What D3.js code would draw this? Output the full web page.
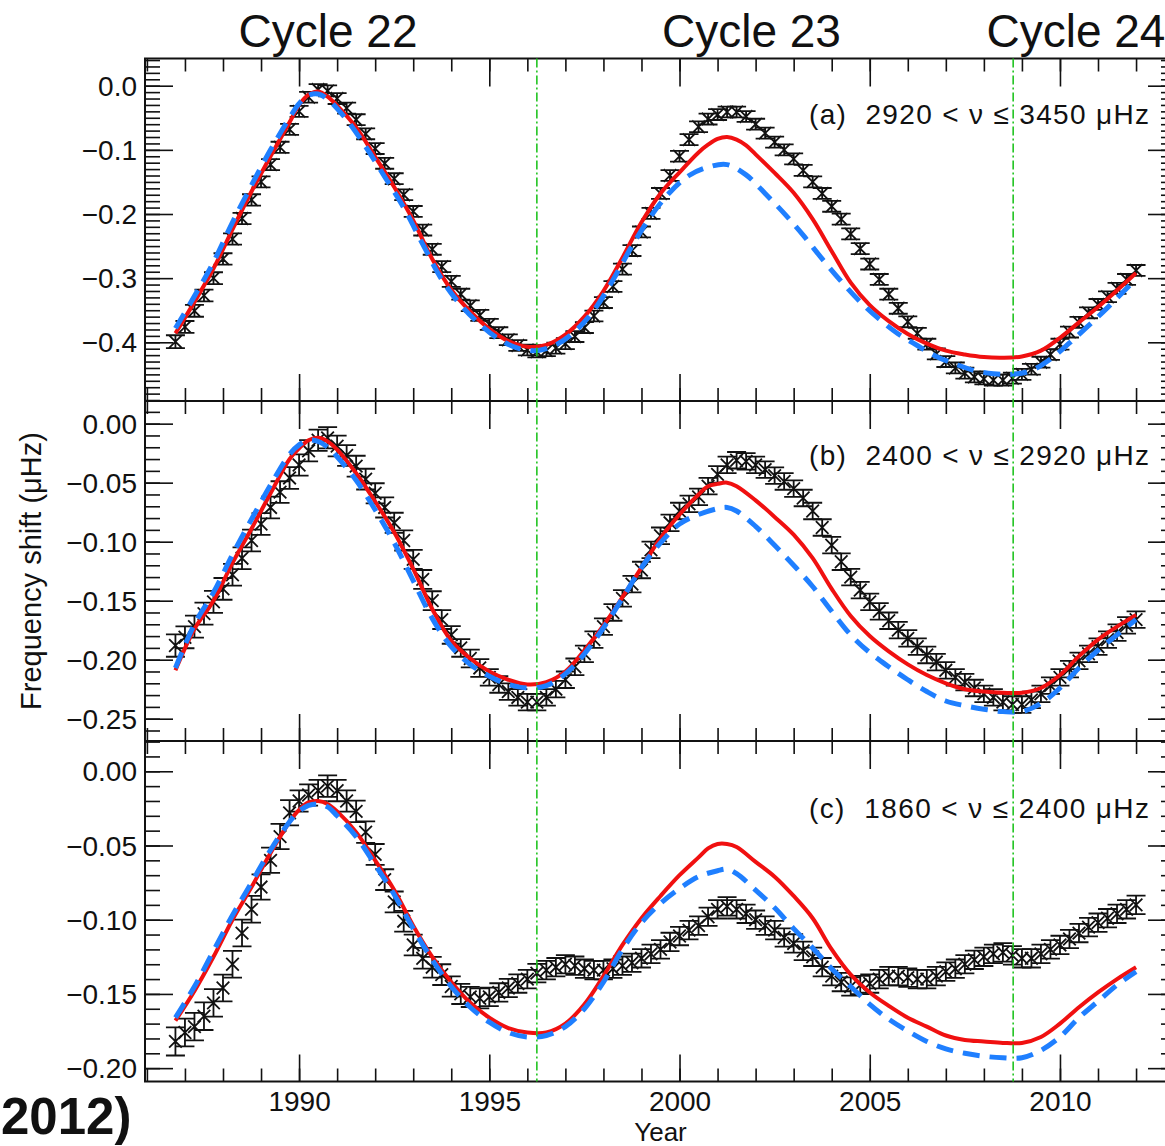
<!DOCTYPE html>
<html>
<head>
<meta charset="utf-8">
<script src="https://cdn.jsdelivr.net/npm/d3@7"></script>
<style>
  body { margin: 0; background: #fff; }
  svg { display: block; }
  text { font-family: "Liberation Sans", Arial, Helvetica, sans-serif; fill: #111; }
</style>
</head>
<body>
<svg id="chart" width="1165" height="1146"></svg>
<script>
// ---- Observations: mean frequency shifts, one value every quarter year ----
const sampleStart = 1986.75;
const sampleStep = 0.25;

const shiftA = [
  -0.399,-0.376,-0.351,-0.327,-0.300,-0.270,-0.239,-0.207,-0.178,-0.150,
  -0.123,-0.096,-0.068,-0.040,-0.018,-0.006,-0.008,-0.020,-0.035,-0.053,
  -0.075,-0.098,-0.121,-0.145,-0.170,-0.196,-0.225,-0.255,-0.282,-0.305,
  -0.325,-0.343,-0.358,-0.372,-0.385,-0.396,-0.405,-0.412,-0.415,-0.413,
  -0.409,-0.402,-0.391,-0.377,-0.359,-0.338,-0.313,-0.286,-0.257,-0.228,
  -0.199,-0.168,-0.140,-0.110,-0.084,-0.064,-0.052,-0.045,-0.041,-0.041,
  -0.048,-0.060,-0.074,-0.088,-0.100,-0.114,-0.132,-0.150,-0.168,-0.188,
  -0.208,-0.231,-0.254,-0.278,-0.302,-0.325,-0.347,-0.368,-0.386,-0.403,
  -0.418,-0.430,-0.440,-0.448,-0.454,-0.457,-0.459,-0.459,-0.456,-0.450,
  -0.442,-0.431,-0.419,-0.403,-0.384,-0.369,-0.354,-0.341,-0.329,-0.316,
  -0.302,-0.288
];

const shiftB = [
  -0.188,-0.181,-0.172,-0.161,-0.151,-0.140,-0.128,-0.114,-0.099,-0.085,
  -0.071,-0.058,-0.046,-0.035,-0.023,-0.014,-0.012,-0.019,-0.027,-0.036,
  -0.047,-0.059,-0.071,-0.084,-0.099,-0.115,-0.132,-0.150,-0.166,-0.179,
  -0.190,-0.199,-0.207,-0.215,-0.221,-0.227,-0.232,-0.236,-0.236,-0.232,
  -0.225,-0.217,-0.206,-0.195,-0.183,-0.172,-0.160,-0.148,-0.136,-0.124,
  -0.107,-0.095,-0.084,-0.074,-0.068,-0.062,-0.053,-0.043,-0.035,-0.031,
  -0.032,-0.035,-0.039,-0.044,-0.049,-0.055,-0.063,-0.074,-0.088,-0.103,
  -0.117,-0.130,-0.141,-0.151,-0.159,-0.167,-0.175,-0.182,-0.189,-0.196,
  -0.202,-0.209,-0.215,-0.219,-0.224,-0.229,-0.232,-0.236,-0.238,-0.238,
  -0.234,-0.229,-0.222,-0.215,-0.208,-0.201,-0.195,-0.189,-0.183,-0.177,
  -0.171,-0.166
];

const shiftC = [
  -0.182,-0.176,-0.172,-0.165,-0.156,-0.146,-0.130,-0.109,-0.093,-0.078,
  -0.060,-0.044,-0.028,-0.020,-0.016,-0.013,-0.010,-0.013,-0.020,-0.027,
  -0.041,-0.056,-0.073,-0.088,-0.101,-0.117,-0.126,-0.132,-0.137,-0.145,
  -0.150,-0.152,-0.153,-0.152,-0.149,-0.146,-0.143,-0.140,-0.136,-0.134,
  -0.132,-0.130,-0.131,-0.133,-0.134,-0.134,-0.133,-0.131,-0.129,-0.126,
  -0.123,-0.120,-0.115,-0.111,-0.107,-0.104,-0.098,-0.093,-0.091,-0.093,
  -0.096,-0.100,-0.104,-0.107,-0.112,-0.116,-0.121,-0.125,-0.132,-0.138,
  -0.142,-0.145,-0.144,-0.143,-0.140,-0.138,-0.138,-0.139,-0.140,-0.140,
  -0.138,-0.135,-0.133,-0.130,-0.127,-0.125,-0.123,-0.122,-0.124,-0.126,
  -0.126,-0.123,-0.120,-0.117,-0.113,-0.109,-0.105,-0.102,-0.099,-0.096,
  -0.093,-0.090
];

// ---- One-sigma uncertainties, one value per calendar year 1986..2012 ----
const errYearStart = 1986;
const errA = [0.0100,0.0092,0.0088,0.0086,0.0085,0.0085,0.0085,0.0085,0.0085,0.0085,
              0.0085,0.0085,0.0085,0.0085,0.0085,0.0085,0.0085,0.0085,0.0085,0.0085,
              0.0085,0.0085,0.0085,0.0085,0.0085,0.0085,0.0085];
const errB = [0.0095,0.0093,0.0092,0.0092,0.0090,0.0088,0.0085,0.0080,0.0075,0.0070,
              0.0070,0.0070,0.0070,0.0070,0.0070,0.0070,0.0070,0.0070,0.0070,0.0070,
              0.0070,0.0070,0.0070,0.0070,0.0070,0.0070,0.0070];
const errC = [0.0095,0.0093,0.0090,0.0085,0.0072,0.0072,0.0070,0.0070,0.0068,0.0062,
              0.0062,0.0062,0.0062,0.0062,0.0062,0.0062,0.0062,0.0062,0.0062,0.0062,
              0.0062,0.0062,0.0062,0.0062,0.0062,0.0062,0.0062];

// ---- Activity-proxy models: [year, shift] (solid red, dashed blue) ----
const redA = [
  [1986.75,-0.386],[1987.25,-0.337],[1987.75,-0.285],[1988.25,-0.224],[1988.75,-0.165],
  [1989.25,-0.110],[1989.75,-0.057],[1990.0,-0.030],[1990.25,-0.014],[1990.5,-0.009],
  [1990.75,-0.017],[1991.0,-0.031],[1991.5,-0.065],[1992.0,-0.111],[1992.5,-0.158],
  [1993.0,-0.210],[1993.5,-0.270],[1994.0,-0.318],[1994.5,-0.352],[1995.0,-0.379],
  [1995.5,-0.398],[1996.0,-0.407],[1996.5,-0.404],[1997.0,-0.388],[1997.5,-0.360],
  [1998.0,-0.320],[1998.5,-0.268],[1999.0,-0.213],[1999.5,-0.168],[2000.0,-0.135],
  [2000.5,-0.104],[2000.75,-0.092],[2001.0,-0.083],[2001.25,-0.080],[2001.5,-0.084],
  [2001.75,-0.093],[2002.0,-0.107],[2002.5,-0.136],[2003.0,-0.167],[2003.5,-0.208],
  [2004.0,-0.258],[2004.5,-0.307],[2005.0,-0.342],[2005.5,-0.367],[2006.0,-0.387],
  [2006.5,-0.402],[2007.0,-0.413],[2007.5,-0.419],[2008.0,-0.423],[2008.5,-0.424],
  [2009.0,-0.422],[2009.5,-0.413],[2010.0,-0.393],[2010.5,-0.369],[2011.0,-0.345],
  [2011.5,-0.319],[2012.0,-0.292]
];
const blueA = [
  [1986.75,-0.378],[1987.25,-0.328],[1987.75,-0.275],[1988.25,-0.213],[1988.75,-0.155],
  [1989.25,-0.100],[1989.75,-0.050],[1990.0,-0.028],[1990.25,-0.015],[1990.5,-0.013],
  [1990.75,-0.021],[1991.25,-0.053],[1991.75,-0.095],[1992.25,-0.142],[1992.75,-0.190],
  [1993.25,-0.247],[1993.75,-0.302],[1994.25,-0.342],[1994.75,-0.372],[1995.25,-0.395],
  [1995.75,-0.409],[1996.25,-0.413],[1996.75,-0.404],[1997.25,-0.383],[1997.75,-0.350],
  [1998.25,-0.303],[1998.75,-0.250],[1999.25,-0.203],[1999.75,-0.166],[2000.25,-0.140],
  [2000.75,-0.127],[2001.25,-0.123],[2001.75,-0.139],[2002.25,-0.168],[2002.75,-0.199],
  [2003.25,-0.233],[2003.75,-0.270],[2004.25,-0.305],[2004.75,-0.337],[2005.25,-0.364],
  [2005.75,-0.387],[2006.25,-0.405],[2006.75,-0.422],[2007.25,-0.434],[2007.75,-0.444],
  [2008.25,-0.449],[2008.75,-0.450],[2009.25,-0.444],[2009.75,-0.426],[2010.25,-0.401],
  [2010.75,-0.374],[2011.25,-0.346],[2011.75,-0.316],[2012.0,-0.301]
];
const redB = [
  [1986.75,-0.209],[1987.25,-0.174],[1987.75,-0.150],[1988.25,-0.118],[1988.75,-0.089],
  [1989.25,-0.059],[1989.75,-0.030],[1990.0,-0.021],[1990.25,-0.014],[1990.5,-0.012],
  [1990.75,-0.015],[1991.0,-0.022],[1991.5,-0.042],[1992.0,-0.066],[1992.5,-0.092],
  [1993.0,-0.123],[1993.5,-0.157],[1994.0,-0.184],[1994.5,-0.199],[1995.0,-0.210],
  [1995.5,-0.217],[1996.0,-0.221],[1996.5,-0.219],[1997.0,-0.210],[1997.5,-0.192],
  [1998.0,-0.171],[1998.5,-0.147],[1999.0,-0.122],[1999.5,-0.097],[2000.0,-0.077],
  [2000.5,-0.060],[2000.75,-0.053],[2001.0,-0.051],[2001.25,-0.050],[2001.5,-0.053],
  [2002.0,-0.065],[2002.5,-0.079],[2003.0,-0.094],[2003.5,-0.114],[2004.0,-0.140],
  [2004.5,-0.163],[2005.0,-0.180],[2005.5,-0.193],[2006.0,-0.204],[2006.5,-0.213],
  [2007.0,-0.220],[2007.5,-0.225],[2008.0,-0.227],[2008.5,-0.228],[2009.0,-0.228],
  [2009.5,-0.224],[2010.0,-0.213],[2010.5,-0.197],[2011.0,-0.183],[2011.5,-0.172],
  [2012.0,-0.162]
];
const blueB = [
  [1986.75,-0.207],[1987.25,-0.170],[1987.75,-0.143],[1988.25,-0.111],[1988.75,-0.081],
  [1989.25,-0.052],[1989.75,-0.026],[1990.0,-0.018],[1990.25,-0.014],[1990.5,-0.015],
  [1990.75,-0.020],[1991.0,-0.028],[1991.5,-0.048],[1992.0,-0.073],[1992.5,-0.101],
  [1993.0,-0.133],[1993.5,-0.165],[1994.0,-0.189],[1994.5,-0.204],[1995.0,-0.214],
  [1995.5,-0.221],[1996.0,-0.224],[1996.5,-0.222],[1997.0,-0.212],[1997.5,-0.195],
  [1998.0,-0.173],[1998.5,-0.148],[1999.0,-0.122],[1999.5,-0.101],[2000.0,-0.085],
  [2000.5,-0.077],[2001.0,-0.072],[2001.25,-0.071],[2001.5,-0.074],[2002.0,-0.087],
  [2002.5,-0.103],[2003.0,-0.120],[2003.5,-0.138],[2004.0,-0.159],[2004.5,-0.179],
  [2005.0,-0.194],[2005.5,-0.206],[2006.0,-0.217],[2006.5,-0.227],[2007.0,-0.235],
  [2007.5,-0.239],[2008.0,-0.242],[2008.5,-0.244],[2009.0,-0.244],[2009.5,-0.237],
  [2010.0,-0.224],[2010.5,-0.207],[2011.0,-0.192],[2011.5,-0.179],[2012.0,-0.166]
];
const redC = [
  [1986.75,-0.168],[1987.25,-0.148],[1987.75,-0.125],[1988.25,-0.100],[1988.75,-0.078],
  [1989.25,-0.055],[1989.75,-0.034],[1990.0,-0.026],[1990.25,-0.021],[1990.5,-0.020],
  [1990.75,-0.022],[1991.0,-0.027],[1991.5,-0.041],[1992.0,-0.060],[1992.5,-0.080],
  [1993.0,-0.104],[1993.5,-0.125],[1994.0,-0.142],[1994.5,-0.156],[1995.0,-0.166],
  [1995.5,-0.173],[1996.0,-0.176],[1996.5,-0.176],[1997.0,-0.170],[1997.5,-0.157],
  [1998.0,-0.138],[1998.5,-0.117],[1999.0,-0.099],[1999.5,-0.084],[2000.0,-0.070],
  [2000.5,-0.058],[2000.75,-0.052],[2001.0,-0.049],[2001.25,-0.049],[2001.5,-0.051],
  [2002.0,-0.061],[2002.5,-0.071],[2003.0,-0.084],[2003.5,-0.099],[2004.0,-0.120],
  [2004.5,-0.137],[2005.0,-0.149],[2005.5,-0.158],[2006.0,-0.166],[2006.5,-0.172],
  [2007.0,-0.178],[2007.5,-0.181],[2008.0,-0.182],[2008.5,-0.183],[2009.0,-0.183],
  [2009.5,-0.179],[2010.0,-0.170],[2010.5,-0.159],[2011.0,-0.149],[2011.5,-0.140],
  [2012.0,-0.132]
];
const blueC = [
  [1986.75,-0.166],[1987.25,-0.145],[1987.75,-0.121],[1988.25,-0.097],[1988.75,-0.075],
  [1989.25,-0.053],[1989.75,-0.034],[1990.0,-0.027],[1990.25,-0.023],[1990.5,-0.022],
  [1990.75,-0.024],[1991.0,-0.030],[1991.5,-0.044],[1992.0,-0.063],[1992.5,-0.083],
  [1993.0,-0.106],[1993.5,-0.127],[1994.0,-0.145],[1994.5,-0.159],[1995.0,-0.169],
  [1995.5,-0.176],[1996.0,-0.179],[1996.5,-0.178],[1997.0,-0.172],[1997.5,-0.160],
  [1998.0,-0.142],[1998.5,-0.120],[1999.0,-0.102],[1999.5,-0.089],[2000.0,-0.079],
  [2000.5,-0.071],[2001.0,-0.067],[2001.25,-0.066],[2001.5,-0.069],[2002.0,-0.080],
  [2002.5,-0.092],[2003.0,-0.106],[2003.5,-0.119],[2004.0,-0.133],[2004.5,-0.145],
  [2005.0,-0.157],[2005.5,-0.167],[2006.0,-0.175],[2006.5,-0.182],[2007.0,-0.187],
  [2007.5,-0.190],[2008.0,-0.192],[2008.5,-0.193],[2009.0,-0.193],[2009.5,-0.188],
  [2010.0,-0.179],[2010.5,-0.166],[2011.0,-0.155],[2011.5,-0.144],[2012.0,-0.135]
];

// ---- Labels and ticks ----
const panelLabels = [
  "(a)  2920 < \u03bd \u2264 3450 \u03bcHz",
  "(b)  2400 < \u03bd \u2264 2920 \u03bcHz",
  "(c)  1860 < \u03bd \u2264 2400 \u03bcHz"
];
const yTicksA = [0, -0.1, -0.2, -0.3, -0.4];
const yTicksB = [0, -0.05, -0.10, -0.15, -0.20, -0.25];
const yTicksC = [0, -0.05, -0.10, -0.15, -0.20];
const xTickYears = [1990, 1995, 2000, 2005, 2010];
const cycleLabels = ["Cycle 22", "Cycle 23", "Cycle 24"];
const cycleLabelYears = [1990.76, 2001.89, 2010.42];
const minimumYears = [1996.25, 2008.77];

// ---- Layout ----
const svg = d3.select("#chart");
const plotLeft = 145, plotRight = 1176;
const x = d3.scaleLinear().domain([1985.95, 2013.05]).range([plotLeft, plotRight]);

const panels = [
  { values: shiftA, err: errA, red: redA, blue: blueA, label: panelLabels[0],
    top: 58.5, bottom: 401, domain: [-0.4915, 0.0424], ticks: yTicksA, fmt: d3.format(".1f"), labelDy: 65 },
  { values: shiftB, err: errB, red: redB, blue: blueB, label: panelLabels[1],
    top: 401, bottom: 741, domain: [-0.2689, 0.0192], ticks: yTicksB, fmt: d3.format(".2f"), labelDy: 63.5 },
  { values: shiftC, err: errC, red: redC, blue: blueC, label: panelLabels[2],
    top: 741, bottom: 1081.5, domain: [-0.2090, 0.0204], ticks: yTicksC, fmt: d3.format(".2f"), labelDy: 77 }
];

const minorYears = d3.range(1986, 2014);

function styleAxis(g, width) {
  g.select(".domain").remove();
  g.selectAll(".tick line").attr("stroke", "#111").attr("stroke-width", width);
}

panels.forEach((p, idx) => {
  const y = d3.scaleLinear().domain(p.domain).range([p.bottom, p.top]);
  const g = svg.append("g");

  // minor / major ticks on all four sides, pointing inward
  const lo = p.domain[0], hi = p.domain[1];
  const minorY = d3.range(Math.ceil(lo * 100), Math.floor(hi * 100) + 1).map(k => k / 100);

  g.append("g").attr("transform", `translate(${plotLeft},0)`)
    .call(d3.axisLeft(y).tickValues(minorY).tickSizeInner(-15).tickSizeOuter(0).tickFormat(""))
    .call(s => styleAxis(s, 1.6));
  const yMajor = g.append("g").attr("transform", `translate(${plotLeft},0)`)
    .call(d3.axisLeft(y).tickValues(p.ticks).tickSizeInner(-28).tickSizeOuter(0).tickPadding(8).tickFormat(p.fmt))
    .call(s => styleAxis(s, 1.6));
  yMajor.selectAll(".tick text").attr("font-size", 28).attr("fill", "#1a1a1a")
    .attr("dy", "0.34em").style("font-family", '"Liberation Sans", Arial, sans-serif');

  g.append("g").attr("transform", `translate(${plotRight},0)`)
    .call(d3.axisRight(y).tickValues(minorY).tickSizeInner(-15).tickSizeOuter(0).tickFormat(""))
    .call(s => styleAxis(s, 1.6));
  g.append("g").attr("transform", `translate(${plotRight},0)`)
    .call(d3.axisRight(y).tickValues(p.ticks).tickSizeInner(-28).tickSizeOuter(0).tickFormat(""))
    .call(s => styleAxis(s, 1.6));

  g.append("g").attr("transform", `translate(0,${p.top})`)
    .call(d3.axisTop(x).tickValues(minorYears).tickSizeInner(-13).tickSizeOuter(0).tickFormat(""))
    .call(s => styleAxis(s, 1.6));
  g.append("g").attr("transform", `translate(0,${p.top})`)
    .call(d3.axisTop(x).tickValues(xTickYears).tickSizeInner(-28).tickSizeOuter(0).tickFormat(""))
    .call(s => styleAxis(s, 1.6));

  g.append("g").attr("transform", `translate(0,${p.bottom})`)
    .call(d3.axisBottom(x).tickValues(minorYears).tickSizeInner(-13).tickSizeOuter(0).tickFormat(""))
    .call(s => styleAxis(s, 1.6));
  const xMajor = g.append("g").attr("transform", `translate(0,${p.bottom})`)
    .call(d3.axisBottom(x).tickValues(xTickYears).tickSizeInner(-27).tickSizeOuter(0).tickPadding(10)
      .tickFormat(idx === panels.length - 1 ? d3.format("d") : ""))
    .call(s => styleAxis(s, 1.6));
  xMajor.selectAll(".tick text").attr("font-size", 28).attr("fill", "#1a1a1a")
    .style("font-family", '"Liberation Sans", Arial, sans-serif');

  // frame
  g.append("rect")
    .attr("x", plotLeft).attr("y", p.top)
    .attr("width", plotRight - plotLeft).attr("height", p.bottom - p.top)
    .attr("fill", "none").attr("stroke", "#111").attr("stroke-width", 2);

  // observations: X symbols with error bars
  const pts = p.values.map((v, i) => {
    const yr = sampleStart + i * sampleStep;
    const e = p.err[Math.min(p.err.length - 1, Math.floor(yr) - errYearStart)];
    return { yr, v, e };
  });
  const s = 6.3, cap = 9.5;
  g.append("g").selectAll("path").data(pts).join("path")
    .attr("d", d => {
      const cx = x(d.yr), cy = y(d.v), yt = y(d.v + d.e), yb = y(d.v - d.e);
      return `M${cx - s},${cy - s}L${cx + s},${cy + s}M${cx - s},${cy + s}L${cx + s},${cy - s}` +
             `M${cx},${yt}L${cx},${yb}M${cx - cap},${yt}L${cx + cap},${yt}M${cx - cap},${yb}L${cx + cap},${yb}`;
    })
    .attr("fill", "none").attr("stroke", "#111").attr("stroke-width", 1.8);

  const line = d3.line().x(d => x(d[0])).y(d => y(d[1])).curve(d3.curveCatmullRom.alpha(0.5));

  g.append("path").datum(p.red).attr("d", line)
    .attr("fill", "none").attr("stroke", "#f01010").attr("stroke-width", 4)
    .attr("stroke-linejoin", "round");
  g.append("path").datum(p.blue).attr("d", line)
    .attr("fill", "none").attr("stroke", "#1f7fff").attr("stroke-width", 5)
    .attr("stroke-dasharray", "17,10");

  // band label
  g.append("text")
    .attr("x", 1149).attr("y", p.top + p.labelDy)
    .attr("text-anchor", "end").attr("font-size", 28)
    .attr("textLength", 340).attr("lengthAdjust", "spacing")
    .style("white-space", "pre")
    .text(p.label);
});

// cycle-minimum markers spanning all three panels
svg.append("g").selectAll("line").data(minimumYears).join("line")
  .attr("x1", d => x(d)).attr("x2", d => x(d))
  .attr("y1", panels[0].top).attr("y2", panels[2].bottom)
  .attr("stroke", "#22c422").attr("stroke-width", 1.6)
  .attr("stroke-dasharray", "9,3,2,3");

// cycle names above the top panel
svg.append("g").selectAll("text").data(cycleLabels).join("text")
  .attr("x", (d, i) => x(cycleLabelYears[i])).attr("y", 47)
  .attr("text-anchor", "middle").attr("font-size", 46)
  .text(d => d);

// axis titles
svg.append("text")
  .attr("transform", `translate(41,571) rotate(-90)`)
  .attr("text-anchor", "middle").attr("font-size", 29)
  .text("Frequency shift (\u03bcHz)");
svg.append("text")
  .attr("x", (plotLeft + plotRight) / 2).attr("y", 1141)
  .attr("text-anchor", "middle").attr("font-size", 26)
  .text("Year");

// citation year, bottom left
svg.append("text")
  .attr("x", 1).attr("y", 1134)
  .attr("text-anchor", "start").attr("font-size", 51).attr("font-weight", "bold")
  .attr("fill", "#000")
  .text("2012)");
</script>
</body>
</html>
